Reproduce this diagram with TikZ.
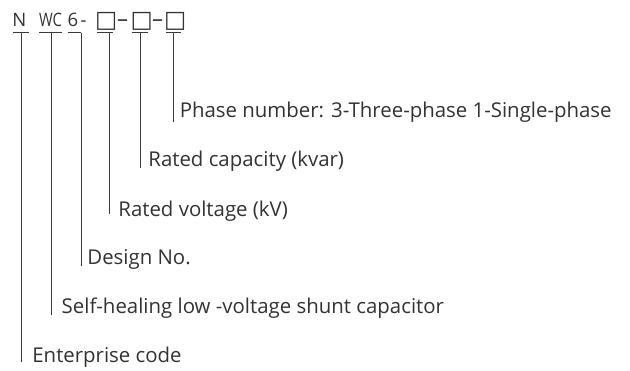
\documentclass[tikz,border=0pt]{standalone}
\usepackage{fontspec}
\setmainfont{Open Sans}
\newfontfamily\symfont{DejaVu Sans}
\definecolor{txt}{HTML}{333333}
\definecolor{ln}{HTML}{3a3a3a}
\begin{document}
\begin{tikzpicture}[x=1pt,y=-1pt,
  lbl/.style={anchor=base west, inner sep=0pt, font=\fontsize{20.4}{24}\selectfont, text=txt},
  hdr/.style={anchor=base west, inner sep=0pt, font=\fontsize{18.5}{22}\selectfont, text=txt},
  hdash/.style={anchor=base west, inner sep=0pt, font=\fontsize{22}{24}\selectfont, text=txt},
  hbox/.style={anchor=base west, inner sep=0pt, font=\symfont\fontsize{23.5}{26}\selectfont, text=txt},
  rule/.style={draw=ln, line width=0.9pt}]
\useasboundingbox (0,0) rectangle (630,370);
% header
\node[hdr] (hN) at (12.3,26.5) {N};
\node[hdr, xscale=0.8, transform shape] (hWC) at (39,26.5) {WC};
\node[hdr] (h6) at (67.3,26.5) {6};
\node[hdr] (hd0) at (80.5,26.5) {-};
\node[hbox] (hb1) at (95,27) {□};
\node[hdash] (hd1) at (116.8,26.5) {–};
\node[hbox] (hb2) at (130.3,27) {□};
\node[hdash] (hd2) at (151.8,26.5) {–};
\node[hbox] (hb3) at (164,27) {□};
% underlines
\draw[rule] (13,32.5) -- (29,32.5);
\draw[rule] (39,32.5) -- (62,32.5);
\draw[rule] (68,32.5) -- (81,32.5);
\draw[rule] (97,32.5) -- (113,32.5);
\draw[rule] (132,32.5) -- (148,32.5);
\draw[rule] (166,32.5) -- (181,32.5);
% labels
\node[lbl] (lPh) at (179.6,117) {Phase number: 3-Three-phase 1-Single-phase};
\node[lbl] (lRC) at (148.2,166) {Rated capacity (kvar)};
\node[lbl] (lRV) at (118.2,216) {Rated voltage (kV)};
\node[lbl] (lDN) at (87.2,264) {Design No.};
\node[lbl] (lSH) at (61.5,313) {Self-healing low -voltage shunt capacitor};
\node[lbl] (lEC) at (32.2,362) {Enterprise code};
% vertical leaders
\coordinate (tPh) at (173.7,32.5); \coordinate (bPh) at (173.7,122);
\coordinate (tRC) at (140,32.5);   \coordinate (bRC) at (140,168);
\coordinate (tRV) at (109,32.5);   \coordinate (bRV) at (109,214);
\coordinate (tDN) at (81,32.5);    \coordinate (bDN) at (81,266);
\coordinate (tSH) at (51,32.5);    \coordinate (bSH) at (51,315);
\coordinate (tEC) at (21.7,32.5);  \coordinate (bEC) at (21.7,362);
\draw[rule] (tPh) -- (bPh);
\draw[rule] (tRC) -- (bRC);
\draw[rule] (tRV) -- (bRV);
\draw[rule] (tDN) -- (bDN);
\draw[rule] (tSH) -- (bSH);
\draw[rule] (tEC) -- (bEC);
\end{tikzpicture}
\end{document}
